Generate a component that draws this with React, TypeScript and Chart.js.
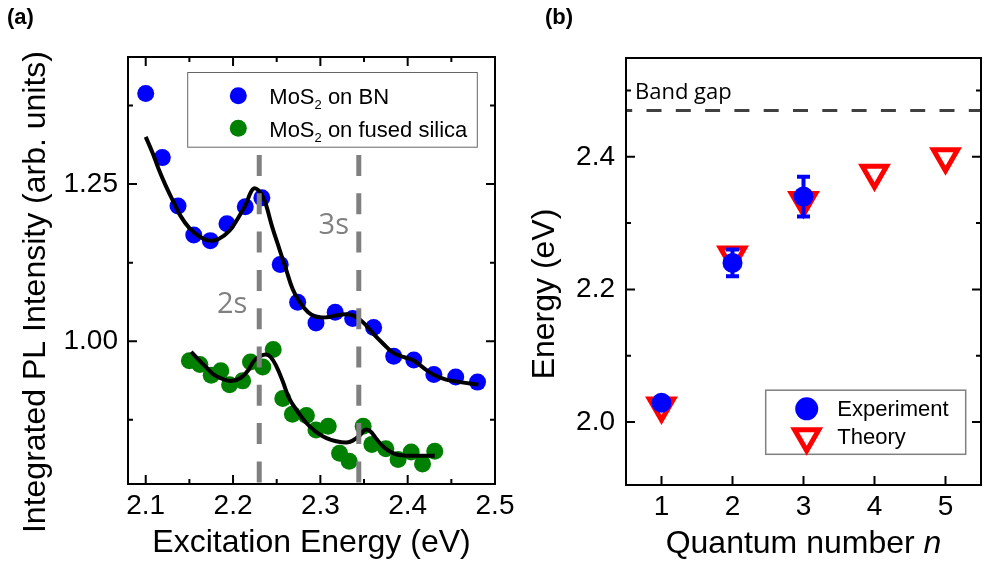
import React, { useEffect, useRef } from "react";
import { Chart, registerables } from "chart.js";
Chart.register(...registerables);

const SANS = '"Liberation Sans", Arial, sans-serif';
const HUMAN = '"Open Sans", "Noto Sans", sans-serif';

// ---------- Panel (a) data ----------
const bnEnergy = [2.1, 2.119, 2.137, 2.155, 2.174, 2.193, 2.214, 2.233, 2.254, 2.274, 2.295, 2.317, 2.337, 2.361, 2.384, 2.407, 2.43, 2.455, 2.48];
const bnIntensity = [1.394, 1.292, 1.215, 1.169, 1.16, 1.187, 1.214, 1.228, 1.122, 1.062, 1.029, 1.046, 1.036, 1.022, 0.976, 0.97, 0.947, 0.943, 0.935];
const silicaEnergy = [2.15, 2.162, 2.175, 2.186, 2.196, 2.211, 2.22, 2.234, 2.246, 2.257, 2.268, 2.284, 2.295, 2.309, 2.322, 2.333, 2.349, 2.359, 2.375, 2.389, 2.404, 2.417, 2.431];
const silicaIntensity = [0.969, 0.963, 0.946, 0.953, 0.931, 0.937, 0.967, 0.959, 0.987, 0.909, 0.884, 0.882, 0.859, 0.865, 0.822, 0.809, 0.865, 0.836, 0.829, 0.812, 0.824, 0.805, 0.825];
const bnFitEnergy = [2.1, 2.108, 2.115, 2.123, 2.131, 2.14, 2.15, 2.161, 2.173, 2.184, 2.196, 2.205, 2.215, 2.22, 2.224, 2.229, 2.234, 2.238, 2.245, 2.253, 2.261, 2.268, 2.276, 2.286, 2.295, 2.307, 2.318, 2.33, 2.339, 2.349, 2.36, 2.372, 2.383, 2.395, 2.406, 2.417, 2.429, 2.444, 2.46, 2.481];
const bnFitIntensity = [1.325, 1.299, 1.273, 1.247, 1.224, 1.199, 1.18, 1.167, 1.16, 1.163, 1.176, 1.194, 1.219, 1.236, 1.243, 1.24, 1.23, 1.216, 1.181, 1.147, 1.113, 1.084, 1.063, 1.046, 1.039, 1.038, 1.041, 1.043, 1.04, 1.03, 1.013, 0.996, 0.982, 0.975, 0.97, 0.959, 0.947, 0.939, 0.935, 0.931];
const silicaFitEnergy = [2.152, 2.161, 2.169, 2.178, 2.188, 2.199, 2.209, 2.217, 2.224, 2.232, 2.238, 2.243, 2.249, 2.257, 2.264, 2.274, 2.284, 2.295, 2.307, 2.318, 2.33, 2.337, 2.345, 2.351, 2.357, 2.364, 2.374, 2.385, 2.398, 2.414, 2.431];
const silicaFitIntensity = [0.983, 0.97, 0.959, 0.947, 0.94, 0.937, 0.942, 0.953, 0.969, 0.977, 0.979, 0.975, 0.962, 0.936, 0.91, 0.888, 0.87, 0.856, 0.846, 0.841, 0.839, 0.842, 0.85, 0.859, 0.857, 0.845, 0.83, 0.821, 0.818, 0.818, 0.818];
const aXTicks = [2.1, 2.2, 2.3, 2.4, 2.5];
const aXMinor = [2.15, 2.25, 2.35, 2.45];
const aYTicks = [1.0, 1.25];
const aYMinor = [0.875, 1.125, 1.375];
const resonanceEnergy = [2.23, 2.344];
const resonanceLabels = ["2s", "3s"];
const legendA = [["MoS", "2", " on BN"], ["MoS", "2", " on fused silica"]];

// ---------- Panel (b) data ----------
const quantumN = [1, 2, 3, 4, 5];
const expN = [1, 2, 3];
const expEnergy = [2.029, 2.24, 2.34];
const expError = [0, 0.02, 0.03];
const theoryEnergy = [2.024, 2.252, 2.334, 2.375, 2.4];
const bYTicks = [2.0, 2.2, 2.4];
const bYMinor = [2.1, 2.3, 2.5];
const bandGap = 2.47;
const legendB = ["Experiment", "Theory"];

const zip = (xs: number[], ys: number[]) => xs.map((x, i) => ({ x, y: ys[i] }));

function drawTriangle(ctx: any, x: number, y: number, r: number) {
  let rad = Math.PI;
  ctx.beginPath();
  ctx.moveTo(x + Math.sin(rad) * r, y - Math.cos(rad) * r);
  rad += (2 * Math.PI) / 3;
  ctx.lineTo(x + Math.sin(rad) * r, y - Math.cos(rad) * r);
  rad += (2 * Math.PI) / 3;
  ctx.lineTo(x + Math.sin(rad) * r, y - Math.cos(rad) * r);
  ctx.closePath();
}

function drawTicks(ctx: any, a: any, xs: any, ys: any, spec: any) {
  ctx.save();
  ctx.strokeStyle = "#000";
  ctx.lineWidth = 2;
  ctx.beginPath();
  const seg = (x1: number, y1: number, x2: number, y2: number) => {
    ctx.moveTo(x1, y1);
    ctx.lineTo(x2, y2);
  };
  const xt = (vals: number[], len: number) =>
    vals.forEach((v) => {
      const p = xs.getPixelForValue(v);
      seg(p, a.bottom, p, a.bottom - len);
      if (spec.top) seg(p, a.top, p, a.top + len);
    });
  const yt = (vals: number[], len: number) =>
    vals.forEach((v) => {
      const p = ys.getPixelForValue(v);
      if (p < a.top || p > a.bottom) return;
      seg(a.left, p, a.left + len, p);
      seg(a.right, p, a.right - len, p);
    });
  xt(spec.xMajor, 9);
  xt(spec.xMinor, 5);
  yt(spec.yMajor, 9);
  yt(spec.yMinor, 5);
  ctx.stroke();
  ctx.strokeRect(a.left, a.top, a.right - a.left, a.bottom - a.top);
  ctx.restore();
}

function drawSub(ctx: any, x: number, baseline: number, parts: string[], size: number) {
  let cx = x;
  parts.forEach((t, i) => {
    const sub = i === 1;
    ctx.font = `${sub ? 13 : size}px ${SANS}`;
    ctx.fillText(t, cx, baseline + (sub ? 5 : 0));
    cx += ctx.measureText(t).width;
  });
}

const panelAPlugin = {
  id: "panelA",
  afterDatasetsDraw(chart: any) {
    const { ctx, chartArea: a, scales } = chart;
    const xs = scales.x;
    ctx.save();
    // resonance lines
    ctx.strokeStyle = "#808080";
    ctx.lineWidth = 5;
    ctx.setLineDash([21, 17.3]);
    resonanceEnergy.forEach((e) => {
      const p = xs.getPixelForValue(e);
      ctx.beginPath();
      ctx.moveTo(p, a.top + 98);
      ctx.lineTo(p, a.bottom);
      ctx.stroke();
    });
    ctx.setLineDash([]);
    ctx.fillStyle = "#808080";
    ctx.font = `29px ${HUMAN}`;
    ctx.textAlign = "center";
    ctx.textBaseline = "middle";
    const p2 = xs.getPixelForValue(resonanceEnergy[0]);
    const p3 = xs.getPixelForValue(resonanceEnergy[1]);
    ctx.fillText(resonanceLabels[0], p2 - 27, a.top + 248);
    ctx.fillText(resonanceLabels[1], p3 - 25, a.top + 169);

    // legend
    const bx = a.left + 59.7, by = a.top + 15.5, bw = 289.6, bh = 74.7;
    ctx.fillStyle = "#fff";
    ctx.fillRect(bx, by, bw, bh);
    ctx.strokeStyle = "#666";
    ctx.lineWidth = 1;
    ctx.strokeRect(bx, by, bw, bh);
    const ds = chart.data.datasets;
    [ds[2], ds[3]].forEach((d: any, i: number) => {
      const my = by + 23.3 + i * 32.4;
      ctx.fillStyle = d.backgroundColor;
      ctx.beginPath();
      ctx.arc(bx + 50.6, my, 8.5, 0, Math.PI * 2);
      ctx.fill();
      ctx.fillStyle = "#000";
      ctx.textAlign = "left";
      ctx.textBaseline = "alphabetic";
      drawSub(ctx, bx + 81.6, my + 8.5, legendA[i], 22);
    });
    ctx.restore();

    drawTicks(ctx, a, xs, scales.y, { top: true, xMajor: aXTicks, xMinor: aXMinor, yMajor: aYTicks, yMinor: aYMinor });

    // titles
    ctx.save();
    ctx.fillStyle = "#000";
    ctx.textAlign = "center";
    ctx.textBaseline = "middle";
    ctx.font = `32px ${SANS}`;
    ctx.fillText("Excitation Energy (eV)", (a.left + a.right) / 2, 543);
    ctx.translate(36, 292);
    ctx.rotate(-Math.PI / 2);
    ctx.fillText("Integrated PL Intensity (arb. units)", 0, 0);
    ctx.restore();
    ctx.save();
    ctx.fillStyle = "#000";
    ctx.font = `bold 22px ${SANS}`;
    ctx.textAlign = "left";
    ctx.textBaseline = "middle";
    ctx.fillText("(a)", 7, 18);
    ctx.restore();
  },
};

const panelBPlugin = {
  id: "panelB",
  beforeDatasetsDraw(chart: any) {
    const { ctx, chartArea: a, scales } = chart;
    const py = scales.y.getPixelForValue(bandGap);
    ctx.save();
    ctx.strokeStyle = "#404040";
    ctx.lineWidth = 3;
    ctx.setLineDash([15, 14.3]);
    ctx.lineDashOffset = 8.8;
    ctx.beginPath();
    ctx.moveTo(a.left, py);
    ctx.lineTo(a.right, py);
    ctx.stroke();
    ctx.setLineDash([]);
    ctx.fillStyle = "#000";
    ctx.font = `22px ${HUMAN}`;
    ctx.textAlign = "left";
    ctx.textBaseline = "alphabetic";
    ctx.fillText("Band gap", a.left + 9, py - 11);
    ctx.restore();
  },
  afterDatasetsDraw(chart: any) {
    const { ctx, chartArea: a, scales } = chart;
    const xs = scales.x, ys = scales.y;
    const ds = chart.data.datasets;
    ctx.save();
    // error bars
    ctx.strokeStyle = ds[0].backgroundColor;
    ctx.lineWidth = 4;
    expN.forEach((n, i) => {
      if (!expError[i]) return;
      const px = xs.getPixelForValue(n);
      const top = ys.getPixelForValue(expEnergy[i] + expError[i]);
      const bot = ys.getPixelForValue(expEnergy[i] - expError[i]);
      ctx.beginPath();
      ctx.moveTo(px, top);
      ctx.lineTo(px, bot);
      ctx.moveTo(px - 6.5, top);
      ctx.lineTo(px + 6.5, top);
      ctx.moveTo(px - 6.5, bot);
      ctx.lineTo(px + 6.5, bot);
      ctx.stroke();
    });
    // legend
    const bx = a.left + 139.7, by = 390.2, bw = 200, bh = 64.1;
    ctx.fillStyle = "#fff";
    ctx.fillRect(bx, by, bw, bh);
    ctx.strokeStyle = "#808080";
    ctx.lineWidth = 1.5;
    ctx.strokeRect(bx, by, bw, bh);
    const mx = bx + 41;
    ctx.fillStyle = ds[0].backgroundColor;
    ctx.beginPath();
    ctx.arc(mx, by + 18.6, 11.5, 0, Math.PI * 2);
    ctx.fill();
    ctx.strokeStyle = ds[1].borderColor;
    ctx.lineWidth = 5;
    drawTriangle(ctx, mx, by + 46.5, 14);
    ctx.stroke();
    ctx.fillStyle = "#000";
    ctx.font = `22px ${SANS}`;
    ctx.textAlign = "left";
    ctx.textBaseline = "alphabetic";
    ctx.fillText(legendB[0], bx + 71.6, by + 26.2);
    ctx.fillText(legendB[1], bx + 71.6, by + 53.5);
    ctx.restore();

    drawTicks(ctx, a, xs, ys, { top: false, xMajor: quantumN, xMinor: [], yMajor: bYTicks, yMinor: bYMinor });

    // titles
    ctx.save();
    ctx.fillStyle = "#000";
    ctx.textBaseline = "middle";
    ctx.font = `32px ${SANS}`;
    const t1 = "Quantum number ";
    const w1 = ctx.measureText(t1).width;
    ctx.font = `italic 32px ${SANS}`;
    const w2 = ctx.measureText("n").width;
    const sx = (a.left + a.right) / 2 - (w1 + w2) / 2;
    ctx.textAlign = "left";
    ctx.font = `32px ${SANS}`;
    ctx.fillText(t1, sx, 544);
    ctx.font = `italic 32px ${SANS}`;
    ctx.fillText("n", sx + w1, 544);
    ctx.font = `32px ${SANS}`;
    ctx.textAlign = "center";
    ctx.translate(25, 294);
    ctx.rotate(-Math.PI / 2);
    ctx.fillText("Energy (eV)", 0, 0);
    ctx.restore();
    ctx.save();
    ctx.fillStyle = "#000";
    ctx.font = `bold 22px ${SANS}`;
    ctx.textAlign = "left";
    ctx.textBaseline = "middle";
    ctx.fillText("(b)", 25, 18);
    ctx.restore();
  },
};

const tickFont = { family: SANS, size: 28 };

export default function App() {
  const refA = useRef<HTMLCanvasElement>(null);
  const refB = useRef<HTMLCanvasElement>(null);

  useEffect(() => {
    Chart.defaults.font.family = SANS;
    const chartA = new Chart(refA.current as HTMLCanvasElement, {
      type: "scatter",
      data: {
        datasets: [
          { type: "line", label: "BN fit", data: zip(bnFitEnergy, bnFitIntensity), borderColor: "#000", borderWidth: 4, pointRadius: 0, tension: 0.4, fill: false, order: 0 },
          { type: "line", label: "Silica fit", data: zip(silicaFitEnergy, silicaFitIntensity), borderColor: "#000", borderWidth: 4, pointRadius: 0, tension: 0.4, fill: false, order: 0 },
          { label: "MoS2 on BN", data: zip(bnEnergy, bnIntensity), backgroundColor: "#0000ff", borderWidth: 0, pointRadius: 8.5, order: 1 },
          { label: "MoS2 on fused silica", data: zip(silicaEnergy, silicaIntensity), backgroundColor: "#008000", borderWidth: 0, pointRadius: 8.5, order: 1 },
        ],
      } as any,
      options: {
        animation: false,
        responsive: false,
        events: [],
        layout: { padding: { left: 0, top: 57, right: 25, bottom: 0 } },
        plugins: { legend: { display: false }, tooltip: { enabled: false } },
        scales: {
          x: {
            type: "linear", min: 2.0797, max: 2.5,
            grid: { display: false, drawTicks: false }, border: { display: false },
            ticks: { font: tickFont, color: "#000", padding: 5, autoSkip: false, maxRotation: 0, callback: (v: any) => Number(v).toFixed(1) },
            afterBuildTicks: (s: any) => { s.ticks = aXTicks.map((value) => ({ value })); },
            afterFit: (s: any) => { s.height = 82; },
          },
          y: {
            type: "linear", min: 0.773, max: 1.452,
            grid: { display: false, drawTicks: false }, border: { display: false },
            ticks: { font: tickFont, color: "#000", padding: 10, autoSkip: false, callback: (v: any) => Number(v).toFixed(2) },
            afterBuildTicks: (s: any) => { s.ticks = aYTicks.map((value) => ({ value })); },
            afterFit: (s: any) => { s.width = 128; },
          },
        },
      } as any,
      plugins: [panelAPlugin],
    });

    const chartB = new Chart(refB.current as HTMLCanvasElement, {
      type: "scatter",
      data: {
        datasets: [
          { label: "Experiment", data: zip(expN, expEnergy), backgroundColor: "#0000ff", borderWidth: 0, pointRadius: 10, order: 0 },
          { label: "Theory", data: zip(quantumN, theoryEnergy), backgroundColor: "rgba(0,0,0,0)", borderColor: "#ff0000", borderWidth: 5, pointRadius: 14, pointStyle: "triangle", rotation: 180, order: 1 },
        ],
      } as any,
      options: {
        animation: false,
        responsive: false,
        events: [],
        layout: { padding: { left: 0, top: 58, right: 7.3, bottom: 0 } },
        plugins: { legend: { display: false }, tooltip: { enabled: false } },
        scales: {
          x: {
            type: "linear", min: 0.5, max: 5.5,
            grid: { display: false, drawTicks: false }, border: { display: false },
            ticks: { font: tickFont, color: "#000", padding: 5, autoSkip: false, maxRotation: 0, callback: (v: any) => String(v) },
            afterBuildTicks: (s: any) => { s.ticks = quantumN.map((value) => ({ value })); },
            afterFit: (s: any) => { s.height = 81; },
          },
          y: {
            type: "linear", min: 1.905, max: 2.549,
            grid: { display: false, drawTicks: false }, border: { display: false },
            ticks: { font: tickFont, color: "#000", padding: 11, autoSkip: false, callback: (v: any) => Number(v).toFixed(1) },
            afterBuildTicks: (s: any) => { s.ticks = bYTicks.map((value) => ({ value })); },
            afterFit: (s: any) => { s.width = 106; },
          },
        },
      } as any,
      plugins: [panelBPlugin],
    });

    return () => {
      chartA.destroy();
      chartB.destroy();
    };
  }, []);

  return (
    <div style={{ position: "absolute", left: 0, top: 0, width: 987, height: 566, overflow: "hidden", background: "#fff" }}>
      <canvas ref={refA} width={520} height={566} style={{ position: "absolute", left: 0, top: 0, width: 520, height: 566 }} />
      <canvas ref={refB} width={480} height={566} style={{ position: "absolute", left: 520, top: 0, width: 480, height: 566 }} />
    </div>
  );
}
